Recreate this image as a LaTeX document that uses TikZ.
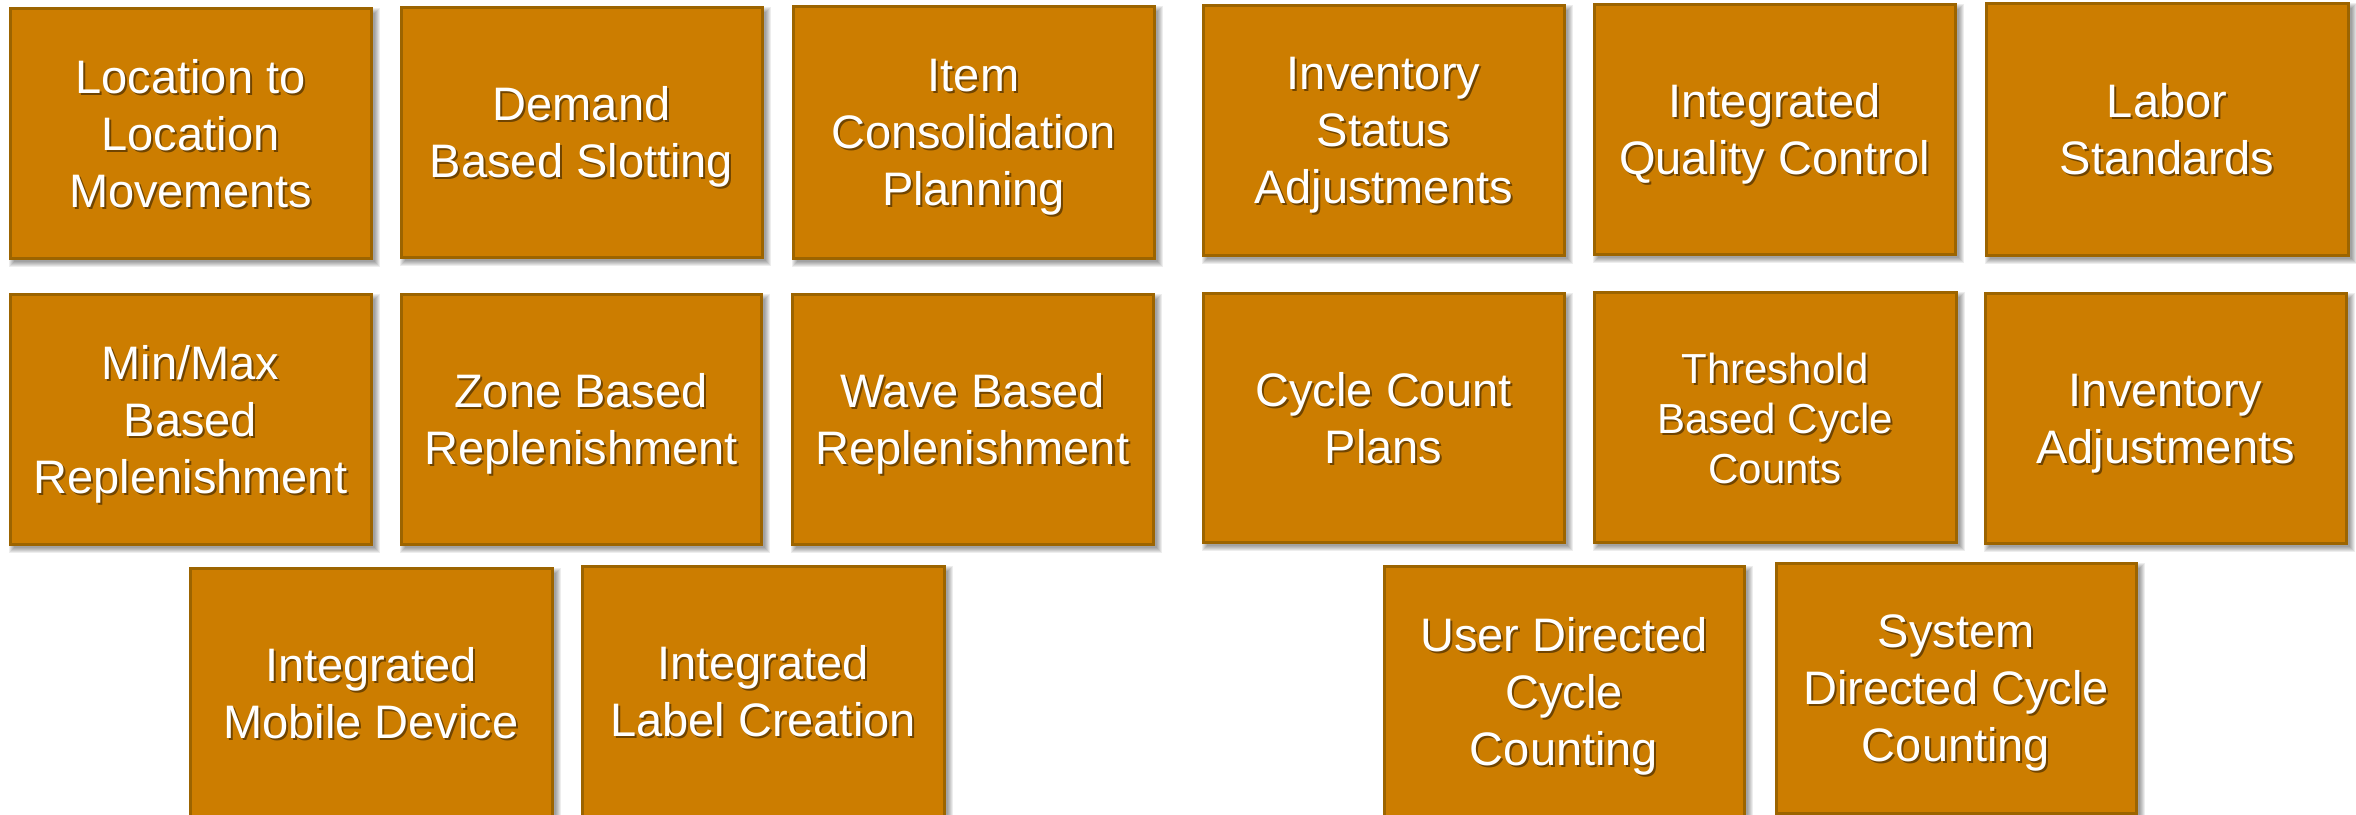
\documentclass[tikz,border=0pt]{standalone}
\usepackage{fontspec}
\setmainfont{Liberation Sans}
\definecolor{boxfill}{RGB}{204,125,0}
\definecolor{boxline}{RGB}{156,100,0}
\tikzset{
  tile/.style={draw=boxline, line width=3pt, fill=boxfill, inner sep=0pt},
  lbl/.style={text=white, align=center, inner sep=0pt,
    execute at begin node=\strut, execute at end node=\strut},
  lblshadow/.style={lbl, text=black, text opacity=0.45},
  bigfont/.style={font=\fontsize{47}{57}\selectfont},
  smallfont/.style={font=\fontsize{42}{50}\selectfont},
}
% #1 name, #2 x1, #3 y1, #4 x2, #5 y2, #6 font style, #7 text
\newcommand\mytile[7]{%
  \pgfmathsetmacro\tcx{(#2+#4)/2}%
  \pgfmathsetmacro\tcy{(#3+#5)/2}%
  \pgfmathsetmacro\tw{#4-#2}%
  \pgfmathsetmacro\th{#5-#3}%
  \foreach \k in {0,...,5}{\fill[black,opacity=0.07] (#2+4-\k,#3+5-\k) rectangle (#4+4+\k,#5+4+\k);}
  \node[tile, minimum width=\tw pt, minimum height=\th pt] (#1) at (\tcx,\tcy) {};
  \node[lblshadow,#6] at ([shift={(2,11)}]#1.center) {#7};
  \node[lbl,#6] at ([shift={(0,9)}]#1.center) {#7};
}
\begin{document}
\begin{tikzpicture}[x=1pt,y=-1pt]
\useasboundingbox (0,0) rectangle (2356,814);
\fill[white] (0,0) rectangle (2356,814);
\clip (0,0) rectangle (2356,814);
% row 1
\mytile{a}{10}{8}{371}{258}{bigfont}{Location to\\Location\\Movements}
\mytile{b}{401}{7}{762}{257}{bigfont}{Demand\\Based Slotting}
\mytile{c}{793}{6}{1154}{258}{bigfont}{Item\\Consolidation\\Planning}
\mytile{d}{1203}{5}{1564}{255}{bigfont}{Inventory\\Status\\Adjustments}
\mytile{e}{1594}{4}{1955}{254}{bigfont}{Integrated\\Quality Control}
\mytile{f}{1986}{3}{2348}{255}{bigfont}{Labor\\Standards}
% row 2
\mytile{g}{10}{294}{371}{544}{bigfont}{Min/Max\\Based\\Replenishment}
\mytile{h}{401}{294}{761}{544}{bigfont}{Zone Based\\Replenishment}
\mytile{i}{792}{294}{1153}{544}{bigfont}{Wave Based\\Replenishment}
\mytile{j}{1203}{293}{1564}{542}{bigfont}{Cycle Count\\Plans}
\mytile{k}{1594}{292}{1956}{542}{smallfont}{Threshold\\Based Cycle\\Counts}
\mytile{l}{1985}{293}{2346}{543}{bigfont}{Inventory\\Adjustments}
% row 3
\mytile{m}{190}{568}{552}{818}{bigfont}{Integrated\\Mobile Device}
\mytile{n}{582}{566}{944}{816}{bigfont}{Integrated\\Label Creation}
\mytile{o}{1384}{566}{1744}{816}{bigfont}{User Directed\\Cycle\\Counting}
\mytile{p}{1776}{563}{2136}{813}{bigfont}{System\\Directed Cycle\\Counting}
\end{tikzpicture}
\end{document}
